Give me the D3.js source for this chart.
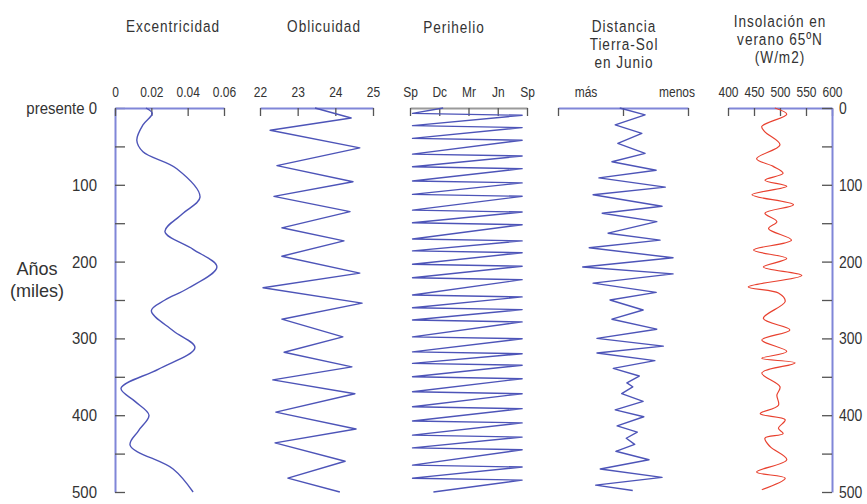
<!DOCTYPE html>
<html><head><meta charset="utf-8">
<script src="https://cdn.jsdelivr.net/npm/d3@7"></script>
<style>
body{margin:0;background:#fff}
svg text{font-family:"Liberation Sans Narrow","Arial Narrow","Liberation Sans",Arial,sans-serif;fill:#333}
</style></head><body><svg id="c" width="867" height="504"></svg>
<script>
// ---- data ----
const kyrTicks = [0,50,100,150,200,250,300,350,400,450,500];
const kyrLabels = ["presente 0","","100","","200","","300","","400","","500"];
const kyrLabelsRight = ["0","","100","","200","","300","","400","","500"];

const eccTicks = [0,0.02,0.04,0.06];
const eccTickLabels = ["0","0.02","0.04","0.06"];
const eccKyr = [0,7,22,42,57,79,116,138,161,184,207,235,250,264,290,312,340,365,382,400,420,439,470,500];
const eccVal = [0.017,0.0205,0.0154,0.012,0.0154,0.034,0.0468,0.037,0.0275,0.043,0.0561,0.040,0.0275,0.020,0.032,0.044,0.024,0.0033,0.011,0.0187,0.013,0.0083,0.032,0.043];

const oblTicks = [22,23,24,25];
const oblTickLabels = ["22","23","24","25"];
const oblKyr = [0,13,29,52,75,96,115,135,156,173,193,215,234,254,275,298,318,337,354,372,396,418,436,460,482,500];
const oblVal = [23.46,24.42,22.27,24.65,22.45,24.47,22.37,24.39,22.58,24.23,22.58,24.65,22.08,24.71,22.58,24.2,22.64,24.44,22.34,24.52,22.42,24.55,22.4,24.26,22.74,24.12];

const periTicks = [0,3,6,9,12];
const periTickLabels = ["Sp","Dc","Mr","Jn","Sp"];
const periKyr = [0,7,9.5,23,25.5,39.5,42,60,62.5,76.5,79,95,97.5,112.5,115,133,135.5,149.5,152,170.5,173,186,188.5,203.5,206,221,223.5,243.5,246,260,262.5,276,278.5,298,300.5,317.5,320,332.5,335,350,352.5,369.5,372,389,391.5,407.5,410,426,428.5,442.5,445,465,467.5,482,484.5,500];
const periVal = [3.4,0.26,11.5,0.26,11.5,0.26,11.5,0.26,11.5,0.26,11.5,0.26,11.5,0.26,11.5,0.26,11.5,0.26,11.5,0.26,11.5,0.26,11.5,0.26,11.5,0.26,11.5,0.26,11.5,0.26,11.5,0.26,11.5,0.26,11.5,0.26,11.5,0.26,11.5,0.26,11.5,0.26,11.5,0.26,11.5,0.26,11.5,0.26,11.5,0.26,11.5,0.26,11.5,0.26,11.5,2.4];

const distTicks = [-1,0,1];
const distKyr = [0,9,22,33,46,59,70,81,91,103,113,128,137,148,163,172,182,195,207,216,228,240,250,263,275,288,300,310,319,329,339,349,358,363,372,382,393,402,414,422,430,438,447,458,470,481,491,498];
const distVal = [-0.05,0.34,-0.12,0.29,-0.08,0.34,-0.17,0.51,-0.37,0.65,-0.46,0.6,-0.32,0.52,-0.23,0.57,-0.52,0.77,-0.62,0.77,-0.46,0.51,-0.2,0.31,-0.17,0.52,-0.4,0.62,-0.4,0.49,-0.15,0.25,0.06,0.15,-0.02,0.31,-0.12,0.32,-0.09,0.22,0.05,0.18,-0.11,0.4,-0.35,0.6,-0.42,0.15];

const insTicks = [400,450,500,550,600];
const insTickLabels = ["400","450","500","550","600"];
const insKyr = [0,8,24,31,48,66,76,85,94,102,113,126,137,148,157,172,185,196,207,218,233,241,252,274,289,302,317,326,332,345,363,374,387,398,406,417,424,430,441,458,474,482,497];
const insVal = [490,513,465,471,500,455,487,506,471,513,446,526,471,494,478,522,449,513,468,542,439,497,510,468,519,465,513,465,529,465,500,494,497,462,510,497,506,471,481,513,455,510,465];

// ---- drawing ----
const svg = d3.select("#c");
const y = d3.scaleLinear().domain([0,500]).range([108,492]);
const BLUE = "#4d54b8", AXIS = "#8086d8", TICK = "#555", RED = "#e8412f";

// condense axis tick text horizontally, keeping its anchor point
function condense(sel, sx){
  sel.each(function(){
    const t = d3.select(this);
    const x = +t.attr("x") || 0, yy = +t.attr("y") || 0;
    t.attr("x",0).attr("y",0).attr("transform",`translate(${x},${yy}) scale(${sx},1)`);
  });
}

function topAxis(scale, ticks, labels, color){
  const g = svg.append("g").attr("transform","translate(0,108)");
  g.call(d3.axisTop(scale).tickValues(ticks).tickFormat((d,i)=>labels ? labels[i] : "")
    .tickSizeInner(-8).tickSizeOuter(0).tickPadding(11));
  g.select(".domain").attr("stroke",color).attr("stroke-width",2);
  g.selectAll(".tick line").attr("stroke",TICK).attr("stroke-width",1.3);
  const tx = g.selectAll(".tick text").attr("font-size",15).attr("fill","#333");
  condense(tx, 0.8);
  return g;
}
function series(xs, kyr, vals, color, curve, w){
  const pts = kyr.map((k,i)=>[k, vals[i]]);
  svg.append("path").datum(pts)
    .attr("fill","none").attr("stroke",color).attr("stroke-width",w)
    .attr("stroke-linejoin","round")
    .attr("d", d3.line().x(d=>xs(d[1])).y(d=>y(d[0])).curve(curve));
}
function label(x, yy, txt, size, sx, anchor, spacing){
  svg.append("text").attr("transform",`translate(${x},${yy}) scale(${sx},1)`)
    .attr("text-anchor",anchor||"middle").attr("font-size",size)
    .attr("letter-spacing",spacing||"0px").text(txt);
}

// Eccentricity
const xEcc = d3.scaleLinear().domain([0,0.06]).range([115,224]);
const gl = svg.append("g").attr("transform","translate(115,0)");
gl.call(d3.axisLeft(y).tickValues(kyrTicks).tickFormat((d,i)=>kyrLabels[i]).tickSizeInner(-10).tickSizeOuter(0).tickPadding(18));
gl.select(".domain").attr("stroke",AXIS).attr("stroke-width",2);
gl.selectAll(".tick line").attr("stroke",TICK).attr("stroke-width",1.3);
condense(gl.selectAll(".tick text").attr("font-size",17).attr("fill","#333"), 0.88);
topAxis(xEcc, eccTicks, eccTickLabels, AXIS);
series(xEcc, eccKyr, eccVal, BLUE, d3.curveCatmullRom.alpha(0.5), 1.4);

// Obliquity
const xObl = d3.scaleLinear().domain([22,25]).range([260,373]);
topAxis(xObl, oblTicks, oblTickLabels, AXIS);
series(xObl, oblKyr, oblVal, BLUE, d3.curveLinear, 1.4);

// Perihelion
const xPeri = d3.scaleLinear().domain([0,12]).range([410,527]);
topAxis(xPeri, periTicks, periTickLabels, "#9a9a9a");
series(xPeri, periKyr, periVal, BLUE, d3.curveLinear, 1.4);

// Distance
const xDist = d3.scaleLinear().domain([-1,1]).range([558,688]);
topAxis(xDist, distTicks, null, AXIS);
series(xDist, distKyr, distVal, BLUE, d3.curveLinear, 1.4);
label(586, 97, "más", 15, 0.8);
label(677, 97, "menos", 15, 0.8);

// Insolation
const xIns = d3.scaleLinear().domain([400,600]).range([728,832]);
topAxis(xIns, insTicks, insTickLabels, AXIS);
const gr = svg.append("g").attr("transform","translate(832,0)");
gr.call(d3.axisRight(y).tickValues(kyrTicks).tickFormat((d,i)=>kyrLabelsRight[i]).tickSizeInner(-10).tickSizeOuter(0).tickPadding(7));
gr.select(".domain").attr("stroke",AXIS).attr("stroke-width",2);
gr.selectAll(".tick line").attr("stroke",TICK).attr("stroke-width",1.3);
condense(gr.selectAll(".tick text").attr("font-size",17).attr("fill","#333"), 0.82);
series(xIns, insKyr, insVal, RED, d3.curveCatmullRom.alpha(0.5), 1.2);

// Titles
const titles = [
  {x:173, y:32, lines:["Excentricidad"]},
  {x:324, y:32, lines:["Oblicuidad"]},
  {x:454, y:33, lines:["Perihelio"]},
  {x:624, y:32, lines:["Distancia","Tierra-Sol","en Junio"]},
  {x:780, y:27, lines:["Insolación en","verano 65ºN","(W/m2)"]}
];
titles.forEach(t=>{
  t.lines.forEach((l,i)=> label(t.x, t.y+i*18, l, 17, 0.8, "middle", "1.2px"));
});
label(37, 275, "Años", 19, 0.95);
label(37, 297, "(miles)", 19, 0.95);
</script></body></html>
